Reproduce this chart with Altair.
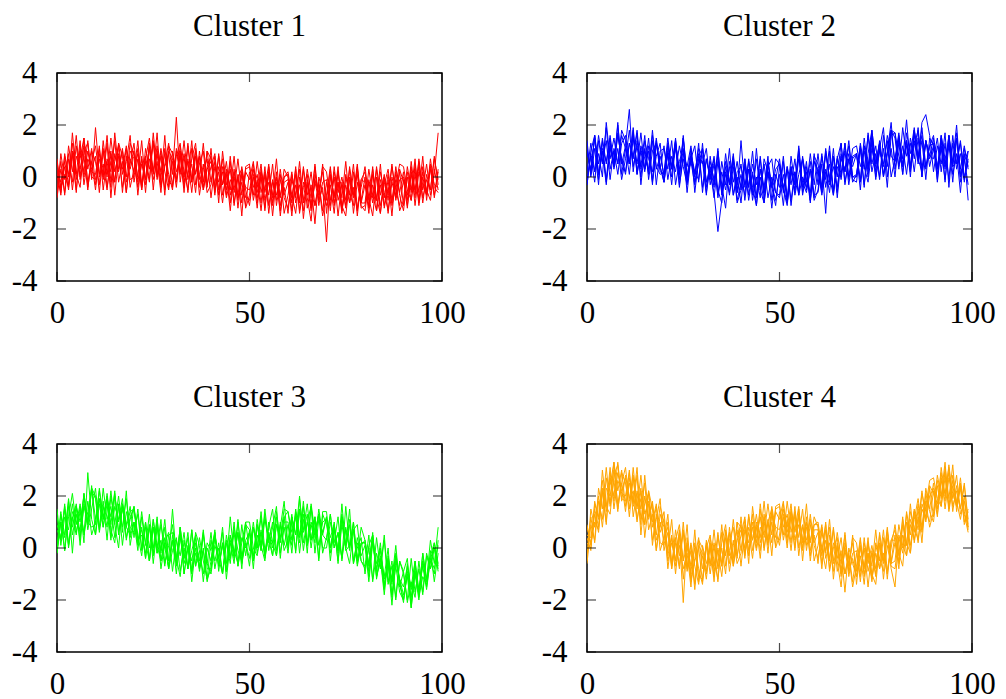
import altair as alt
import pandas as pd

X_TICKS = [0, 50, 100]
Y_TICKS = [-4, -2, 0, 2, 4]
TITLES = ["Cluster 1", "Cluster 2", "Cluster 3", "Cluster 4"]
COLORS = ["#ff0000", "#0000ff", "#00ff00", "#ffa500"]

# values in tenths, 100 points (x = 0..99), groups of ten separated by "|"
CLUSTER1 = [
    "-8 3 -6 12 2 16 -1 8 -5 10|6 -3 14 1 10 -7 8 3 12 -1|0 11 -5 7 15 2 9 -4 5 13|1 23 -2 8 -6 11 1 8 -5 4|8 -5 2 -10 3 -5 8 -8 -2 -11|2 -7 6 -6 2 -14 -1 -9 3 -8|-12 -1 -7 3 -16 -2 -11 5 -9 -4|-25 1 -8 4 -13 -3 -10 2 -15 -1|-2 -14 1 -9 5 -12 -4 -10 4 -6|2 -11 1 -8 7 -5 5 -7 1 17",
    "2 -7 8 1 13 -1 7 15 -4 6|-5 9 1 16 -2 6 12 -6 8 3|10 -7 7 -1 12 2 17 -3 4 9|-4 8 13 -2 6 -6 8 -1 13 -3|4 9 -7 4 -5 6 -11 0 3 -8|-9 0 -12 3 -6 1 -15 0 -8 3|0 -13 -3 -10 4 -8 -17 1 -6 2|-9 3 -11 -2 -14 0 -7 5 -12 -4|4 -8 -15 0 -11 -3 3 -9 -1 -13|-9 4 -5 7 -10 2 -6 5 -8 2",
    "6 -4 1 -4 9 -5 10 2 14 -1|19 1 11 -4 6 -2 13 8 -6 7|2 14 -3 8 -1 17 1 10 -5 12|9 -1 12 2 -5 7 13 -4 5 -6|-3 6 -10 10 -3 3 -10 1 -15 4|5 -9 -1 -13 1 -7 5 -11 -1 -7|-2 -15 1 -9 3 -12 -3 -18 0 -6|-11 -3 -14 2 -8 6 -10 -4 -13 -1|2 -9 4 -13 -3 -11 -1 -15 2 -7|-13 0 -9 5 -6 8 -9 4 -3 -4",
    "-5 6 -7 7 -2 12 0 15 3 11|-3 7 0 13 -8 9 2 11 -2 5|13 -2 8 -6 11 1 12 -1 16 -4|6 -4 10 0 13 -2 10 -7 3 7|-8 4 -2 7 -7 8 -6 0 -10 2|-1 6 -8 0 -12 2 -7 7 -11 -4|-14 1 -8 6 -10 -3 -13 -1 -7 4|2 -9 0 -15 -2 -11 4 -7 1 -12|-11 -1 -8 3 -14 0 -7 5 -9 -1|0 -9 6 -6 4 -10 1 -5 7 -1",
    "3 -2 6 -3 17 1 -4 10 13 0|-1 12 -5 7 2 14 -2 6 -6 10|7 -4 5 -1 13 -5 10 2 9 -2|-3 10 1 14 -1 5 -6 10 -2 10|7 -7 9 -3 2 -10 3 -12 1 -4|-5 3 -10 1 -13 4 -8 -2 -13 0|1 -10 4 -13 -2 -7 2 -11 -3 -15|-7 4 -10 -2 -13 1 -6 -11 3 -9|0 -12 -3 -9 2 -6 -13 0 -7 2|-11 2 -6 3 -11 0 -7 3 -7 3",
    "7 -5 4 -5 10 1 14 -3 7 3|8 -6 10 0 15 2 9 -4 6 16|-2 7 -5 11 3 13 -1 8 -7 10|7 -2 9 -6 12 -1 2 8 -5 3|6 -3 8 -7 1 -13 2 -7 4 -5|-11 1 -4 5 -9 -2 -11 2 -15 -2|-1 -8 3 -14 -4 1 -12 -2 -9 5|-14 0 -7 2 -11 -15 -1 -8 4 -10|-3 -11 3 -8 -14 0 -9 4 -5 -11|-1 -12 2 -5 6 -8 -1 -5 8 -3",
    "-7 9 -1 9 -5 8 3 12 -2 6|12 0 5 -5 9 -2 13 1 11 -4|3 9 -4 6 -2 14 0 11 2 -5|10 2 8 -4 7 -2 11 1 -4 10|-2 8 -5 2 -8 -1 -5 7 -7 3|4 -4 1 -10 4 -11 -2 -7 1 -14|-7 2 -10 -3 -13 -1 -8 4 -11 -2|-1 -13 2 -6 0 -9 3 -14 -2 -11|-13 -2 -10 4 -7 1 -14 -2 -8 3|-2 -7 4 -11 2 -3 -7 7 -4 -6",
    "0 -6 9 0 9 -6 12 0 10 2|1 11 -1 6 -4 17 3 10 0 13|9 0 14 -3 7 -1 6 -6 11 1|-5 11 2 9 0 14 -3 5 10 -4|11 -6 4 -3 6 -7 0 -9 2 -12|-7 5 -6 2 -5 5 -10 0 -7 0|2 -7 -14 0 -9 3 -6 -11 -2 -13|-2 -11 4 -9 -3 -12 0 -7 5 -10|-10 3 -7 -13 -1 -8 1 -11 -3 5|4 -5 -9 1 -9 4 -5 -9 3 -5",
]

CLUSTER2 = [
    "10 2 16 5 14 -2 11 4 17 6|2 13 7 17 -3 11 2 18 3 8|1 12 3 15 -3 7 0 11 -6 7|6 -7 8 -3 11 -7 1 -6 7 -3|5 -9 3 -6 7 -5 5 -8 0 -6|-8 1 -9 8 -3 11 -6 4 -9 6|2 -6 11 -1 8 -8 7 3 12 0|1 12 -3 9 18 5 13 0 9 18|6 15 4 14 0 18 8 16 3 12|16 4 11 -1 12 5 17 1 7 -3",
    "-3 10 16 1 10 -1 13 6 20 5|12 26 2 14 4 16 -1 10 13 2|1 9 -3 13 3 10 -6 8 1 11|8 -6 4 -4 10 -3 -12 6 -2 6|-5 7 -7 2 -11 3 -4 8 -9 -1|7 -5 -11 4 -7 1 7 -5 3 -9|-5 8 -1 12 -6 7 -1 10 -3 7|9 -2 12 4 16 2 11 19 0 11|0 15 7 22 4 12 18 0 14 8|15 -2 12 3 16 6 20 0 6 10",
    "-1 8 -2 14 5 19 3 10 1 13|16 5 18 1 10 2 12 -3 13 4|-2 9 0 14 1 15 -2 9 2 -1|11 -2 1 -6 -21 -9 6 -2 9 -6|14 -4 6 -9 0 -8 7 2 -12 1|-4 8 -8 3 -6 12 -4 6 -9 8|5 -4 9 0 -7 7 13 -2 7 -2|1 11 -4 17 5 12 0 11 -4 16|17 4 12 1 15 7 19 3 14 7|12 -1 15 4 16 1 9 -6 11 4",
    "14 0 11 -3 15 5 16 4 21 1|11 1 15 5 17 3 15 -1 8 13|-2 10 4 14 -1 15 1 6 -3 8|5 11 -3 5 -7 6 -3 11 -7 0|-10 5 -4 10 -7 0 -10 2 -4 7|5 -6 4 -11 2 -7 8 -2 6 -7|-6 5 -14 10 -7 8 1 13 -1 8|9 -1 15 3 13 -1 11 4 16 8|6 16 1 14 4 18 6 21 24 16|2 12 5 17 -4 13 5 14 0 6",
    "11 1 16 -1 11 6 15 3 11 -1|7 18 4 12 0 14 7 2 15 3|12 -1 8 2 12 4 -3 8 1 9|-4 7 -1 7 -8 2 -5 4 -7 2|4 -3 3 -7 11 -5 -10 4 7 -6|-7 6 -10 2 -3 9 -7 2 -10 6|3 -7 2 -3 11 -6 9 2 9 -1|-2 11 3 16 2 9 -1 16 4 18|15 3 19 8 13 2 15 0 14 8|7 15 2 13 -1 16 3 9 -2 10",
    "10 3 15 1 10 -3 12 4 16 7|1 13 8 18 3 10 1 14 -3 10|11 3 14 -3 6 11 -2 7 0 13|-6 7 0 8 -5 -10 4 -3 8 -6|1 -7 7 -4 -11 3 -6 6 -3 -9|1 -11 4 -3 7 -7 0 -4 9 -3|9 -4 3 -6 8 0 13 -3 7 4|9 -5 12 2 18 5 13 0 10 21|3 13 1 17 9 19 5 14 -1 15|12 3 14 -2 16 4 6 13 -1 7",
    "-3 9 2 16 6 14 -1 11 5 16|11 5 16 1 12 7 3 16 4 1|2 15 3 12 -4 9 4 12 -2 5|11 -2 3 -8 6 -6 9 -3 6 -9|-2 4 -9 1 -8 8 -6 5 -4 -11|4 -4 3 -9 2 -6 7 -1 -6 9|-3 9 -4 5 -5 4 0 13 0 11|12 4 10 0 15 0 10 5 14 0|7 17 5 12 2 14 7 19 4 12|13 1 16 7 13 4 15 -2 9 -9",
    "2 13 2 9 0 21 7 15 5 18|14 5 19 2 11 3 10 -2 14 4|-2 13 4 11 1 16 -1 7 12 -2|13 -4 6 -1 8 -5 2 -7 4 -10|-5 7 -4 5 -3 7 -8 2 -4 3|5 -4 -10 4 -5 7 -2 -6 3 -8|3 -5 10 -2 4 -4 8 2 14 0|0 13 4 -2 11 4 14 1 9 18|17 8 4 14 3 16 7 2 14 4|11 3 16 5 13 -2 15 3 12 3",
]

CLUSTER3 = [
    "1 14 -1 12 21 9 17 5 14 23|11 19 8 17 3 20 10 17 3 12|15 2 8 -4 8 0 12 -5 2 -8|5 -5 8 -4 4 -13 0 -8 5 -6|-10 1 -4 6 -12 2 -6 10 -3 2|-4 8 0 12 -4 6 0 12 -4 10|10 -2 14 4 18 1 9 2 15 5|12 -2 9 -1 13 0 9 -5 2 -5|-8 0 -12 4 -8 5 -13 -5 -19 -5|-10 -20 -4 -17 -8 -18 -3 -8 2 -6",
    "-1 10 -1 16 8 16 1 17 10 22|19 6 16 8 22 9 0 17 9 16|4 15 0 8 -5 8 0 11 -6 1|9 -4 -11 3 -8 -1 5 -8 0 -12|-8 4 -4 8 -9 3 -4 6 -6 3|6 -5 9 1 13 -1 8 16 -2 8|-2 12 5 20 2 10 16 -2 11 6|12 -5 8 -1 12 1 15 -6 0 4|-10 1 5 -11 -4 -16 -3 -12 1 -15|-9 -4 -21 -9 -18 -5 -15 -4 0 -8",
    "12 3 17 1 12 5 16 2 29 11|5 17 8 21 9 22 5 16 8 5|16 3 5 -2 9 -6 8 -1 11 -5|15 -4 6 -10 0 -9 6 1 -13 0|-5 7 -9 2 -6 12 -3 6 -8 9|7 -3 11 1 -5 8 15 -1 9 -1|3 13 -2 19 6 13 0 11 -5 14|14 0 7 -5 9 0 11 -6 4 -3|1 -13 2 -9 2 -14 -6 -22 -5 -12|-18 -11 -23 -7 -17 -2 -12 -5 -10 3",
    "-2 10 4 18 -2 16 10 20 7 15|23 8 18 3 20 9 20 6 22 1|10 -1 12 1 13 -2 9 -8 2 6|-9 3 -3 6 -8 7 -7 -1 -10 2|-1 6 -7 2 -9 5 -3 11 -5 2|-7 8 0 14 -1 6 -3 9 4 15|14 3 13 -2 11 2 17 6 13 0|0 10 2 12 -5 8 0 10 -5 2|2 -9 5 -8 0 -15 -5 -13 -2 -12|-15 -7 -23 -10 -20 -5 -12 3 -6 8",
    "-2 13 5 19 5 13 3 21 9 23|20 7 23 11 16 4 17 1 14 8|6 13 -1 10 -5 11 -2 3 -7 5|6 -6 8 -10 1 -5 4 -9 -1 -13|-5 6 -7 1 -9 5 -1 -6 9 -3|7 -5 5 -1 11 3 -3 9 3 12|0 12 5 14 -1 10 3 12 1 10|11 4 9 -2 17 0 -6 7 9 -5|-7 5 -13 -2 -8 3 -14 -7 -20 -5|-9 -21 -13 -19 -5 -17 -2 -8 0 -9",
    "9 4 16 0 11 17 5 16 9 24|5 19 12 20 7 2 16 8 19 4|10 1 14 2 -5 8 -2 9 0 -7|3 -10 4 -4 6 -9 -2 -7 6 -6|6 -8 0 -10 5 -4 10 -7 4 0|6 -8 9 -1 15 2 10 -3 8 18|1 10 -1 15 7 17 3 12 -4 13|9 0 10 -6 12 -1 1 7 -7 1|3 -6 4 -11 -4 -18 -4 -14 -3 -13|-20 -9 -15 -5 -19 -11 -14 -1 -13 -2",
    "7 3 15 1 14 10 7 21 10 8|9 23 11 19 4 16 11 19 4 11|16 3 7 -4 9 -3 11 -2 8 -8|-1 4 -9 0 -8 7 -7 4 -5 -12|3 -5 2 -10 2 -6 8 -1 -5 10|-1 10 -2 6 -3 5 2 14 2 12|14 6 12 2 16 1 10 5 13 -2|4 13 0 6 -4 7 -1 10 -6 2|2 -11 3 -6 -1 -11 0 -18 -7 -17|-20 -10 -19 -5 -16 -7 -16 -4 -8 1",
    "15 1 12 7 17 6 14 6 18 5|10 22 11 19 12 21 6 15 8 14|15 5 -3 10 0 11 1 -5 4 -8|3 -7 8 -6 0 -10 2 -5 7 -8|-8 5 -4 -10 3 -4 6 -7 2 10|10 0 -3 7 -3 10 2 -3 10 1|9 1 15 5 13 -2 16 4 13 5|3 13 0 6 -4 16 1 7 -4 8|3 -7 6 -12 -3 -12 -6 -19 -3 -14|-21 -6 -16 -9 -18 -2 -13 -3 2 -7",
]

CLUSTER4 = [
    "-6 9 3 23 15 31 16 26 14 29|25 15 31 16 23 4 17 10 17 2|1 10 -8 3 9 -5 1 -13 -4 4|-8 1 -10 1 -13 6 -3 6 -7 4|9 -2 6 -4 10 4 18 2 10 1|14 5 18 6 14 -3 9 1 13 1|-4 6 -1 8 -12 1 -9 6 -9 -4|-11 1 -8 4 -12 -2 -8 4 -12 3|3 -8 9 1 17 2 12 7 23 15|25 13 26 18 32 19 28 13 18 8",
    "4 -1 17 12 26 14 24 33 15 25|14 27 18 31 11 17 21 1 13 6|11 -8 4 -5 6 -5 9 -12 -5 0|-13 0 5 -9 -1 -11 4 -3 11 -3|5 12 -3 10 2 15 -1 10 15 4|3 12 0 15 6 12 -5 10 2 12|8 -6 3 -5 8 -5 -15 2 -6 2|-9 3 -11 -2 -13 1 -5 7 -9 0|9 -2 -7 10 1 11 19 8 18 8|14 28 20 33 15 26 17 25 9 14",
    "8 2 10 7 22 10 27 20 33 18|28 19 28 11 19 9 22 15 -1 10|3 13 -6 4 -7 10 -7 1 -14 3|0 -9 4 -5 -12 2 9 -6 3 -6|-2 9 -6 16 4 12 0 11 -3 16|17 3 11 -1 13 4 15 -1 9 2|6 -8 7 -4 7 -9 -1 -17 0 -6|-11 -3 -14 2 -7 7 -8 -2 -10 3|7 -3 12 -3 9 3 15 2 21 14|10 24 16 31 19 32 14 24 14 8",
    "-3 12 2 18 11 27 17 33 22 30|16 25 17 28 5 20 11 18 3 8|14 -3 5 -10 5 -21 4 -10 7 -13|-3 -12 2 -7 6 -7 6 -9 1 7|-7 7 2 13 0 17 4 10 2 14|11 18 4 12 0 13 3 17 -1 5|-6 8 -2 11 -6 0 -11 0 -7 4|2 -9 0 -15 -1 -10 6 -5 4 -8|-15 5 0 13 -2 14 9 22 10 20|23 15 31 20 29 14 24 15 24 11",
    "5 4 15 8 30 16 13 28 32 19|18 30 12 22 15 25 7 13 -1 13|8 -5 2 -5 7 -12 2 -7 0 -11|-12 2 -7 7 -8 0 -10 8 -4 10|8 -4 13 3 9 -1 13 -2 13 8|7 15 2 13 -1 15 2 8 -3 9|9 -3 10 -8 2 -4 4 -10 -3 -15|-7 4 -10 -2 -12 2 -4 -9 6 -5|5 -6 5 1 14 8 3 17 12 23|12 26 19 29 14 24 16 23 10 15",
    "9 1 13 6 23 16 31 15 26 22|27 12 27 15 28 13 18 3 11 19|-1 6 -8 7 -3 6 -9 -1 -16 1|-2 -10 1 -13 5 -6 -2 6 -7 3|7 0 12 -1 8 -4 12 3 16 7|1 13 8 17 3 9 -1 12 -5 7|7 -1 9 -9 0 4 -10 -1 -9 5|-14 0 -7 2 -10 -14 1 -6 7 -6|2 -5 11 2 -2 14 7 21 14 10|22 12 27 21 31 16 22 15 25 9",
    "-5 15 8 20 8 23 20 30 17 25|31 18 22 10 22 9 22 8 16 -1|4 8 -7 2 -8 7 -8 2 -7 -14|1 -6 0 -11 0 -7 7 -1 -6 10|-1 11 -1 8 -1 8 5 17 5 15|16 8 13 2 16 0 8 3 11 -5|1 9 -4 2 -9 2 -6 5 -11 -2|-1 -13 2 -6 1 -8 5 -12 1 -7|-8 4 -2 14 5 15 2 15 11 24|21 17 29 15 27 21 16 27 13 6",
    "2 0 18 11 22 9 29 18 29 21|20 29 16 21 9 28 12 17 5 16|10 -1 11 -7 1 -8 -2 -15 2 -8|-14 3 -6 2 -7 9 -7 3 8 -4|12 -3 8 3 13 2 10 1 14 0|5 17 6 14 7 16 0 10 3 9|10 0 -8 5 -5 6 -4 -10 -2 -13|-2 -11 4 -9 -2 -11 2 -5 8 -6|-5 9 1 -3 11 6 17 6 16 26|27 19 16 27 16 28 18 11 20 7",
]

CLUSTERS = [CLUSTER1, CLUSTER2, CLUSTER3, CLUSTER4]

FONT = "Liberation Serif"
W, H = 385, 208
TICK = 9


def parse(s):
    return [int(v) / 10 for v in s.replace("|", " ").split()]


XAXIS = alt.Axis(values=X_TICKS, ticks=False, domain=False, grid=False, title=None,
                 labelPadding=17, labelFont=FONT, labelFontSize=31,
                 labelColor="black", labelFlush=False,
                 labelExpr="toString(datum.value)")
YAXIS = alt.Axis(values=Y_TICKS, ticks=False, domain=False, grid=False, title=None,
                 labelPadding=20, labelFont=FONT, labelFontSize=31,
                 labelColor="black", labelFlush=False,
                 labelExpr="toString(datum.value)")


def panel(k):
    rows = []
    for li, s in enumerate(CLUSTERS[k]):
        for xi, v in enumerate(parse(s)):
            rows.append({"x": xi, "y": v, "line": li})
    df = pd.DataFrame(rows)
    xs = alt.Scale(domain=[0, 100], nice=False, zero=False)
    ys = alt.Scale(domain=[-4, 4], nice=False, zero=False)
    lines = alt.Chart(df).mark_line(strokeWidth=1, color=COLORS[k], clip=True).encode(
        x=alt.X("x:Q", scale=xs, axis=XAXIS),
        y=alt.Y("y:Q", scale=ys, axis=YAXIS),
        detail="line:N",
    )
    ydf = pd.DataFrame({"v": Y_TICKS})
    xdf = pd.DataFrame({"v": X_TICKS})
    tk = dict(size=TICK, thickness=1.2, color="black")
    yl = alt.Chart(ydf).mark_tick(orient="horizontal", **tk).encode(
        y=alt.Y("v:Q", scale=ys, axis=YAXIS), x=alt.value(TICK / 2))
    yr = alt.Chart(ydf).mark_tick(orient="horizontal", **tk).encode(
        y=alt.Y("v:Q", scale=ys, axis=YAXIS), x=alt.value(W - TICK / 2))
    xb = alt.Chart(xdf).mark_tick(orient="vertical", **tk).encode(
        x=alt.X("v:Q", scale=xs, axis=XAXIS), y=alt.value(H - TICK / 2))
    xt = alt.Chart(xdf).mark_tick(orient="vertical", **tk).encode(
        x=alt.X("v:Q", scale=xs, axis=XAXIS), y=alt.value(TICK / 2))
    return alt.layer(lines, yl, yr, xb, xt).properties(
        width=W, height=H,
        title=alt.TitleParams(TITLES[k], font=FONT, fontSize=31, fontWeight="normal",
                              color="black", anchor="middle", baseline="alphabetic", offset=-10),
    )


chart = alt.concat(panel(0), panel(1), panel(2), panel(3), columns=2,
                   spacing={"row": 163, "column": 145}, bounds="flush").properties(
    padding={"left": 2, "top": 2, "right": 2, "bottom": 0}
).configure(
    background="white",
    view=alt.ViewConfig(stroke="black", strokeWidth=1.5),
)

chart.save("out.html", embed_options={"renderer": "svg", "actions": False})
